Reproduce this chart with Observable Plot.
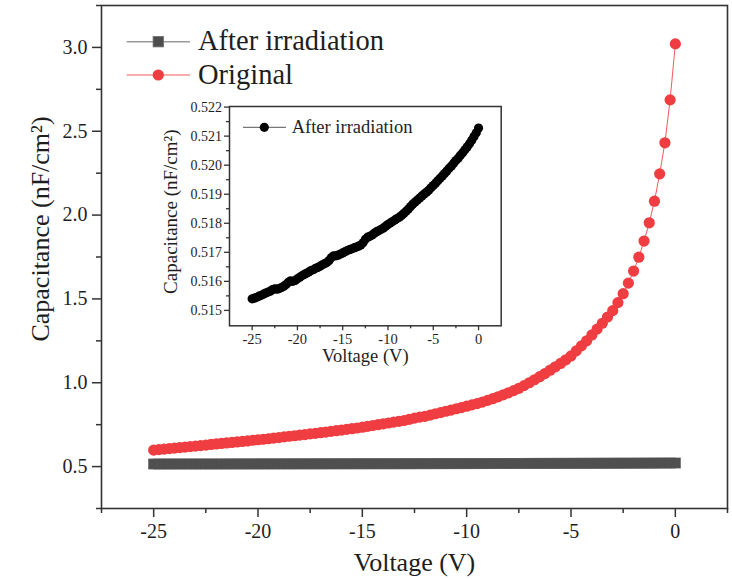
<!DOCTYPE html>
<html><head><meta charset="utf-8">
<script src="https://cdn.jsdelivr.net/npm/d3@7"></script>
<script src="https://cdn.jsdelivr.net/npm/@observablehq/plot@0.6"></script>
<style>
body{margin:0;background:#fff;}
#wrap{position:relative;width:732px;height:579px;background:#fff;}
#inset{position:absolute;left:150px;top:95px;}
svg{font-family:"Liberation Serif","Times New Roman",serif;}
</style></head><body><div id="wrap"><div id="main"></div><div id="inset"></div></div>
<script>
const voltage = [-25,-24.75,-24.5,-24.25,-24,-23.75,-23.5,-23.25,-23,-22.75,-22.5,-22.25,-22,-21.75,-21.5,-21.25,-21,-20.75,-20.5,-20.25,-20,-19.75,-19.5,-19.25,-19,-18.75,-18.5,-18.25,-18,-17.75,-17.5,-17.25,-17,-16.75,-16.5,-16.25,-16,-15.75,-15.5,-15.25,-15,-14.75,-14.5,-14.25,-14,-13.75,-13.5,-13.25,-13,-12.75,-12.5,-12.25,-12,-11.75,-11.5,-11.25,-11,-10.75,-10.5,-10.25,-10,-9.75,-9.5,-9.25,-9,-8.75,-8.5,-8.25,-8,-7.75,-7.5,-7.25,-7,-6.75,-6.5,-6.25,-6,-5.75,-5.5,-5.25,-5,-4.75,-4.5,-4.25,-4,-3.75,-3.5,-3.25,-3,-2.75,-2.5,-2.25,-2,-1.75,-1.5,-1.25,-1,-0.75,-0.5,-0.25,0];

const capOriginal = [
0.598,0.601,0.604,0.607,0.610,0.613,0.616,0.619,0.622,0.625,
0.628,0.632,0.635,0.638,0.641,0.644,0.647,0.650,0.653,0.657,
0.660,0.663,0.666,0.670,0.673,0.677,0.681,0.684,0.688,0.691,
0.695,0.698,0.702,0.706,0.710,0.714,0.718,0.722,0.726,0.730,
0.735,0.740,0.745,0.750,0.755,0.760,0.765,0.770,0.775,0.782,
0.789,0.795,0.800,0.807,0.815,0.822,0.830,0.837,0.845,0.852,
0.860,0.868,0.876,0.885,0.895,0.905,0.916,0.928,0.940,0.953,
0.967,0.983,1.000,1.018,1.036,1.055,1.075,1.095,1.115,1.137,
1.160,1.190,1.220,1.250,1.285,1.320,1.355,1.392,1.430,1.478,
1.531,1.594,1.666,1.749,1.845,1.954,2.083,2.246,2.431,2.687,
3.021];

const capIrradiated = [
0.51540,0.51542,0.51545,0.51549,0.51552,0.51556,0.51560,0.51563,0.51566,0.51572,
0.51574,0.51573,0.51575,0.51579,0.51583,0.51589,0.51597,0.51602,0.51600,0.51603,
0.51609,0.51614,0.51619,0.51624,0.51628,0.51632,0.51637,0.51640,0.51645,0.51648,
0.51652,0.51657,0.51661,0.51665,0.51672,0.51682,0.51688,0.51688,0.51690,0.51694,
0.51698,0.51702,0.51706,0.51709,0.51712,0.51715,0.51718,0.51721,0.51725,0.51733,
0.51745,0.51752,0.51755,0.51760,0.51766,0.51771,0.51775,0.51779,0.51784,0.51790,
0.51796,0.51801,0.51806,0.51811,0.51816,0.51821,0.51827,0.51834,0.51841,0.51849,
0.51858,0.51866,0.51873,0.51880,0.51887,0.51894,0.51901,0.51907,0.51914,0.51922,
0.51930,0.51938,0.51946,0.51955,0.51963,0.51971,0.51980,0.51989,0.51997,0.52007,
0.52016,0.52024,0.52034,0.52043,0.52053,0.52063,0.52074,0.52086,0.52099,0.52112,
0.52128];

const seriesNames = ["After irradiation", "Original"];
const xTitle = "Voltage (V)";
const yTitle = "Capacitance (nF/cm\u00B2)";

const mainXTicks = [-25,-20,-15,-10,-5,0];
const mainXMinor = [-27.5,-22.5,-17.5,-12.5,-7.5,-2.5,2.5];
const mainYTicks = [0.5,1.0,1.5,2.0,2.5,3.0];
const mainYMinor = [0.25,0.75,1.25,1.75,2.25,2.75,3.25];

const insetXTicks = [-25,-20,-15,-10,-5,0];
const insetXMinor = [-22.5,-17.5,-12.5,-7.5,-2.5];
const insetYTicks = [0.515,0.516,0.517,0.518,0.519,0.520,0.521,0.522];
const insetYMinor = [0.5155,0.5165,0.5175,0.5185,0.5195,0.5205,0.5215];

const orig = voltage.map((v,i)=>({v, c: capOriginal[i]}));
const irr = voltage.map((v,i)=>({v, c: capIrradiated[i]}));

const INK = "#1e1e1e", AX = "#333";
const FONT = "'Liberation Serif','Times New Roman',serif";

const main = Plot.plot({
  width: 732, height: 579,
  marginLeft: 101, marginRight: 5, marginTop: 5, marginBottom: 71,
  x: {domain: [-27.5, 2.5], label: null},
  y: {domain: [0.25, 3.25], label: null},
  style: {fontFamily: FONT, background: "white", color: INK},
  marks: [
    Plot.dot(irr, {x: "v", y: "c", symbol: "square", r: 6.2, fill: "#7a7a7a"}),
    Plot.dot(irr, {x: "v", y: "c", symbol: "square", r: 5.6, fill: "#4f4f4f"}),
    Plot.line(orig, {x: "v", y: "c", stroke: "#f25a5a", strokeWidth: 1}),
    Plot.dot(orig, {x: "v", y: "c", r: 5.6, fill: "#ef3d41"}),
    Plot.frame({stroke: AX, strokeWidth: 1.6}),
    Plot.axisX({ticks: mainXTicks, tickSize: 9, tickPadding: 6, tickFormat: d => String(d), fontSize: 20, label: null, stroke: AX, strokeWidth: 1.5, fill: INK}),
    Plot.axisX({ticks: mainXMinor, tickSize: 5, tickFormat: () => "", label: null, stroke: AX, strokeWidth: 1.5}),
    Plot.axisY({ticks: mainYTicks, tickSize: 9, tickPadding: 5, tickFormat: d => d.toFixed(1), fontSize: 20, label: null, stroke: AX, strokeWidth: 1.5, fill: INK}),
    Plot.axisY({ticks: mainYMinor, tickSize: 5, tickFormat: () => "", label: null, stroke: AX, strokeWidth: 1.5}),
    Plot.text([xTitle], {text: d => d, frameAnchor: "bottom", textAnchor: "middle", lineAnchor: "bottom", dy: 62, fontSize: 26, fill: INK}),
    Plot.text([yTitle], {text: d => d, frameAnchor: "left", textAnchor: "middle", lineAnchor: "middle", rotate: -90, dx: -61, dy: -28, fontSize: 26, fill: INK})
  ]
});
document.getElementById("main").appendChild(main);

// main legend
{
  const svg = d3.select(main);
  const g = svg.append("g").attr("font-family", FONT).attr("text-anchor", "start");
  const r1 = 41.7, r2 = 75;
  g.append("line").attr("x1", 126.7).attr("x2", 190).attr("y1", r1).attr("y2", r1).attr("stroke", "#9a9a9a").attr("stroke-width", 1.5);
  g.append("rect").attr("x", 158.3 - 5.2).attr("y", r1 - 5.2).attr("width", 10.4).attr("height", 10.4).attr("fill", "#4d4d4d").attr("stroke", "#6e6e6e").attr("stroke-width", 0.8);
  g.append("text").attr("x", 198).attr("y", r1 + 8.5).attr("text-anchor", "start").attr("font-size", 28.5).attr("fill", INK).text(seriesNames[0]);
  g.append("line").attr("x1", 126.7).attr("x2", 190).attr("y1", r2).attr("y2", r2).attr("stroke", "#f25a5a").attr("stroke-width", 1.2);
  g.append("circle").attr("cx", 158.3).attr("cy", r2).attr("r", 5.6).attr("fill", "#ef3d41");
  g.append("text").attr("x", 198).attr("y", r2 + 8.5).attr("text-anchor", "start").attr("font-size", 28.5).attr("fill", INK).text(seriesNames[1]);
}

const inset = Plot.plot({
  width: 360, height: 280,
  marginLeft: 79, marginRight: 9.3, marginTop: 11, marginBottom: 49.7,
  x: {domain: [-27.5, 2.5], label: null},
  y: {domain: [0.51447, 0.52202], label: null},
  style: {fontFamily: FONT, background: "transparent", color: INK, overflow: "visible"},
  marks: [
    Plot.frame({fill: "white"}),
    Plot.line(irr, {x: "v", y: "c", stroke: "#000", strokeWidth: 1}),
    Plot.dot(irr, {x: "v", y: "c", r: 4.6, fill: "#000"}),
    Plot.frame({stroke: AX, strokeWidth: 1.5}),
    Plot.axisX({ticks: insetXTicks, tickSize: 5, tickPadding: 3, tickFormat: d => String(d), fontSize: 14.5, label: null, stroke: AX, strokeWidth: 1.3, fill: INK}),
    Plot.axisX({ticks: insetXMinor, tickSize: 3, tickFormat: () => "", label: null, stroke: AX, strokeWidth: 1.3}),
    Plot.axisY({ticks: insetYTicks, tickSize: 5, tickPadding: 2.5, tickFormat: d => d.toFixed(3), fontSize: 14, label: null, stroke: AX, strokeWidth: 1.3, fill: INK}),
    Plot.axisY({ticks: insetYMinor, tickSize: 3, tickFormat: () => "", label: null, stroke: AX, strokeWidth: 1.3}),
    Plot.text([xTitle], {text: d => d, frameAnchor: "bottom", textAnchor: "middle", lineAnchor: "bottom", dy: 36, fontSize: 18.5, fill: INK}),
    Plot.text([yTitle], {text: d => d, frameAnchor: "left", textAnchor: "middle", lineAnchor: "middle", rotate: -90, dx: -59, dy: -4.5, fontSize: 19, fill: INK})
  ]
});
document.getElementById("inset").appendChild(inset);

// inset legend
{
  const svg = d3.select(inset);
  const ox = 150, oy = 95, ry = 127.3 - oy;
  const g = svg.append("g").attr("font-family", FONT).attr("text-anchor", "start");
  g.append("line").attr("x1", 243 - ox).attr("x2", 286 - ox).attr("y1", ry).attr("y2", ry).attr("stroke", "#555").attr("stroke-width", 1);
  g.append("circle").attr("cx", 264.3 - ox).attr("cy", ry).attr("r", 4.6).attr("fill", "#000");
  g.append("text").attr("x", 291.7 - ox).attr("y", ry + 6).attr("text-anchor", "start").attr("font-size", 18.5).attr("fill", INK).text(seriesNames[0]);
}
</script>
</body></html>
